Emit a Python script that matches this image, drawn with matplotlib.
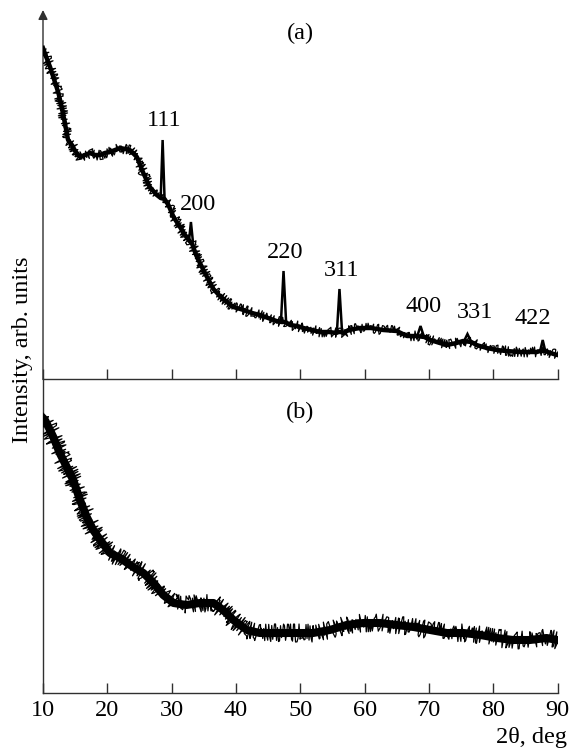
import matplotlib
matplotlib.use("Agg")
import matplotlib.pyplot as plt

plt.rcParams['font.family'] = ['Liberation Serif', 'DejaVu Serif']

# ---- data (arb. units) ----
x_ticks = [10, 20, 30, 40, 50, 60, 70, 80, 90]

# panel (a): background trace
a_x = [10.0, 10.5, 11.1, 11.9, 12.4, 12.9, 13.4, 13.9, 14.5, 15.0, 15.75, 16.5,
       17.3, 18.1, 18.9, 19.6, 20.4, 21.2, 22.0, 22.8, 23.5, 24.6, 25.6, 26.6,
       27.7, 28.3, 28.9, 29.5, 30.3, 31.3, 32.3, 32.8, 33.2, 33.8,
       34.4, 35.5, 36.5, 37.5, 38.6, 39.6, 41.2, 42.5, 43.7, 45.0, 46.3, 47.1,
       47.7, 48.4, 49.5, 50.5, 51.8, 53.1, 54.5, 55.6, 55.9, 56.3,
       56.7, 57.5, 59.3, 61.0, 62.9, 65.0, 66.6, 68.1, 69.3, 70.2, 71.7,
       72.8, 74.3, 75.3, 76.6, 77.4, 79.0, 80.6, 82.0, 84.2, 85.5, 86.8,
       87.3, 88.1, 88.5, 89.4, 90.0]
a_y = [331, 322, 312, 296, 286, 272, 256, 239, 234, 228, 222, 224,
       226, 224, 224, 226, 227, 229, 231, 230, 229, 222, 206, 192,
       184, 181, 180, 174, 162, 152, 142, 138, 135, 124,
       116, 102, 90, 83, 77, 72, 69, 66, 64, 61, 58, 57,
       57, 54, 53, 51, 49, 47, 47, 46, 47, 47,
       46, 49, 51, 51, 49, 48, 43, 43, 42, 39, 36,
       34, 36, 38, 37, 34, 31, 29, 28, 27, 27, 27,
       28, 28, 27, 25, 24]

# panel (a): diffraction peaks
peak_labels = ['111', '200', '220', '311', '400', '331', '422']
peak_x = [28.6, 33.0, 47.4, 56.1, 68.7, 76.0, 87.7]
peak_top = [239, 157, 108, 90, 53, 45, 39]
peak_base = [181, 138, 57, 47, 43, 37, 28]
peak_halfwidth = [0.3, 0.3, 0.4, 0.4, 0.5, 0.6, 0.4]
peak_label_x = [28.8, 34.1, 47.6, 56.5, 69.1, 77.2, 86.2]
peak_label_y = [258, 174, 127, 108, 73, 66, 60]

# panel (b)
b_x = [10.0, 10.3, 11.0, 11.6, 12.6, 13.7, 14.7, 15.75, 16.8, 17.8, 18.9, 20.4,
       22.0, 24.0, 25.6, 27.2, 28.7, 30.3, 32.3, 34.4, 36.5, 38.0, 39.6, 41.7,
       43.7, 46.0, 49.5, 52.0, 54.6, 57.2, 59.8, 62.4, 65.0, 67.6, 70.2, 72.8,
       75.4, 78.0, 80.6, 83.1, 85.7, 88.3, 90.0]
b_y = [275, 273, 264, 256, 240, 226, 213, 193, 176, 163, 153, 140,
       135, 126, 120, 110, 98, 90, 88, 90, 90, 83, 73, 63,
       60, 60, 60, 60, 63, 68, 70, 70, 68, 66, 63, 60,
       60, 58, 55, 53, 53, 55, 53]

W, H = 575, 754
fig = plt.figure(figsize=(W / 100, H / 100), dpi=100)

left = 43 / W
width = (557.5 - 43) / W
ax_a = fig.add_axes([left, (H - 379) / H, width, (379 - 10) / H])
ax_b = fig.add_axes([left, (H - 693) / H, width, (693 - 379) / H])

spine_c = '#303030'
for ax, ymax in ((ax_a, 369), (ax_b, 314)):
    ax.set_xlim(10, 90)
    ax.set_ylim(0, ymax)
    ax.spines['top'].set_visible(False)
    ax.spines['right'].set_visible(False)
    for s in ('left', 'bottom'):
        ax.spines[s].set_color(spine_c)
        ax.spines[s].set_linewidth(1.0)
    ax.set_yticks([])
    ax.set_xticks(x_ticks)
    ax.tick_params(axis='x', direction='in', length=7.5, width=1.0,
                   color=spine_c, labelsize=17.5, pad=5)
    ax.patch.set_alpha(0)

ax_a.tick_params(axis='x', labelbottom=False)
ax_a.spines['left'].set_visible(False)
ax_a.annotate('', xy=(0, 1), xytext=(0, -0.001), xycoords='axes fraction',
              textcoords='axes fraction',
              arrowprops=dict(arrowstyle='-|>', color=spine_c, lw=1.0,
                              mutation_scale=14, shrinkA=0, shrinkB=0))

# traces: solid core + dense jagged overlay to mimic counting noise
for ax, xs, ys, core, scale in ((ax_a, a_x, a_y, 3.2, 5.0), (ax_b, b_x, b_y, 5.8, 9.0)):
    ax.plot(xs, ys, color='black', lw=core, zorder=3)
    ln, = ax.plot(xs, ys, color='black', lw=0.9, zorder=4)
    ln.set_sketch_params(scale=scale, length=1.3, randomness=3)

# peaks as sharp spikes
for px, pt, pb, hw in zip(peak_x, peak_top, peak_base, peak_halfwidth):
    ax_a.plot([px - hw, px, px + hw], [pb, pt, pb], color='black', lw=1.8,
              solid_joinstyle='miter', zorder=5)

for lab, lx, ly in zip(peak_labels, peak_label_x, peak_label_y):
    ax_a.text(lx, ly, lab, ha='center', va='center', fontsize=17.5)

ax_a.text(50, 346, '(a)', ha='center', va='center', fontsize=17.5)
ax_b.text(50, 281, '(b)', ha='center', va='center', fontsize=17.5)

fig.text(23 / W, 1 - 350 / H, 'Intensity, arb. units', rotation=90,
         ha='center', va='center', fontsize=17.5)
fig.text(567 / W, 1 - 738 / H, '2θ, deg', ha='right', va='center', fontsize=17.5)

fig.savefig('out.png', dpi=100)
